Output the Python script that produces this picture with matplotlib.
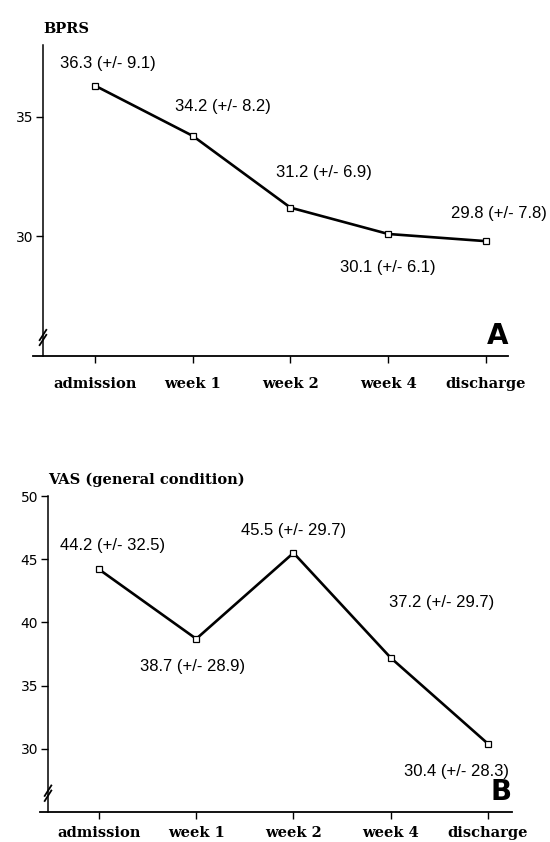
import matplotlib
matplotlib.use('Agg')
import matplotlib.pyplot as plt

timepoints = ['admission', 'week 1', 'week 2', 'week 4', 'discharge']

bprs_mean = [36.3, 34.2, 31.2, 30.1, 29.8]
bprs_sd = [9.1, 8.2, 6.9, 6.1, 7.8]
bprs_ticks = [30, 35]

vas_mean = [44.2, 38.7, 45.5, 37.2, 30.4]
vas_sd = [32.5, 28.9, 29.7, 29.7, 28.3]
vas_ticks = [30, 35, 40, 45, 50]

# label offsets in points (x, y) relative to each marker
bprs_offsets = [(9, 16), (22, 21), (24, 25), (0, -24), (9, 20)]
vas_offsets = [(10, 17), (-3, -20), (0, 16), (37, 40), (-23, -20)]

SANS = 'Liberation Sans'
SERIF = 'DejaVu Serif'


def panel(fig, rect, means, sds, yticks, ylim, spine_x, xlim, title, letter,
          offsets, xpad):
	ax = fig.add_axes(rect)
	x = list(range(len(means)))
	ax.plot(x, means, color='black', linewidth=1.9, marker='s', markersize=5,
	        markerfacecolor='white', markeredgecolor='black', markeredgewidth=0.9,
	        zorder=3)
	for xi, m, s, off in zip(x, means, sds, offsets):
		ax.annotate('%.1f (+/- %.1f)' % (m, s), (xi, m), xytext=off,
		            textcoords='offset points', ha='center', va='center',
		            fontsize=12, family=SANS)
	ax.set_xlim(*xlim)
	ax.set_ylim(*ylim)
	ax.set_xticks(x)
	ax.set_xticklabels(timepoints, family=SERIF, fontweight='bold', fontsize=10.5)
	ax.set_yticks(yticks)
	ax.set_yticklabels([str(t) for t in yticks], family=SANS, fontsize=12.5)
	for sp in ['top', 'right']:
		ax.spines[sp].set_visible(False)
	ax.spines['left'].set_position(('axes', spine_x))
	ax.spines['left'].set_linewidth(1.1)
	ax.spines['bottom'].set_linewidth(1.3)
	ax.tick_params(axis='both', direction='out', length=5, width=1.0, color='black')
	ax.tick_params(axis='x', pad=xpad)
	ax.tick_params(axis='y', pad=2)
	# break marks on the y axis
	for dy in (0, 0.016):
		ax.plot([spine_x - 0.007, spine_x + 0.007], [0.035 + dy, 0.068 + dy],
		        transform=ax.transAxes, color='black', linewidth=1.3, clip_on=False)
	ax.text(spine_x, 1.03, title, transform=ax.transAxes, family=SERIF,
	        fontweight='bold', fontsize=10.5, ha='left', va='bottom')
	ax.text(1.0, 0.02, letter, transform=ax.transAxes, family='DejaVu Sans',
	        fontweight='heavy', fontsize=20, ha='right', va='bottom')
	return ax


fig = plt.figure(figsize=(5.5, 8.42), dpi=100)

panel(fig, [0.06, 0.5772, 0.8636, 0.3694], bprs_mean, bprs_sd, bprs_ticks,
      (25, 38), 0.021, (-0.634, 4.225), 'BPRS', 'A', bprs_offsets, 10)
panel(fig, [0.0727, 0.0356, 0.8582, 0.3753], vas_mean, vas_sd, vas_ticks,
      (25, 50), 0.017, (-0.607, 4.247), 'VAS (general condition)', 'B',
      vas_offsets, 5)

fig.savefig('out.png', dpi=100)
